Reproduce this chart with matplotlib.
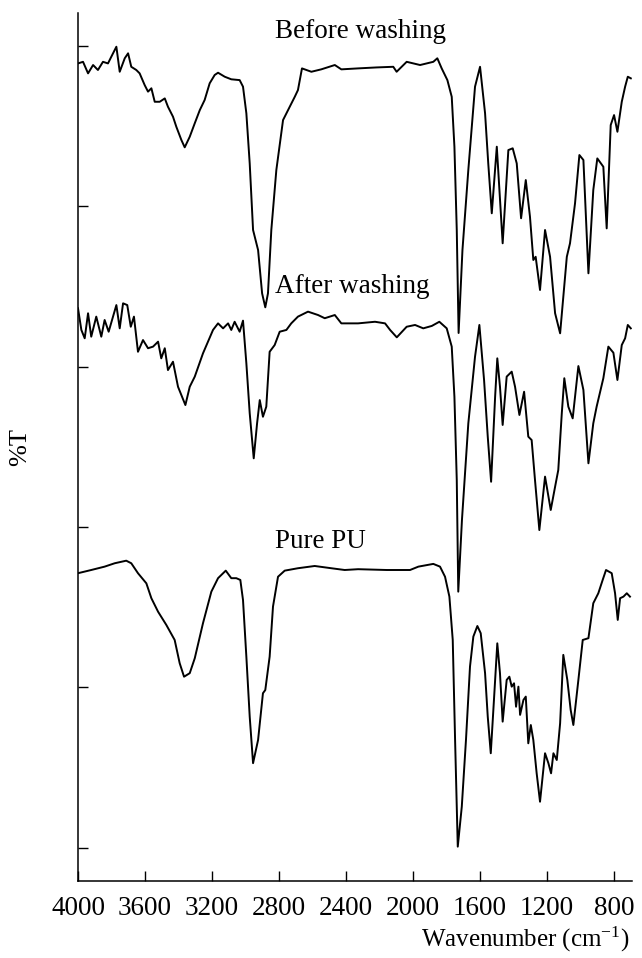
import numpy as np
import matplotlib
matplotlib.use('Agg')
import matplotlib.pyplot as plt

plt.rcParams['font.family'] = ['Liberation Serif', 'DejaVu Serif']
plt.rcParams['mathtext.fontset'] = 'custom'
plt.rcParams['mathtext.rm'] = 'Liberation Serif'
plt.rcParams['mathtext.it'] = 'Liberation Serif:italic'

# FTIR spectra, stacked (%T with offsets)
wn_before = [4000, 3970, 3940, 3910, 3881, 3851, 3821, 3801, 3771, 3751, 3721, 3701, 3682,
             3652, 3632, 3602, 3582, 3562, 3542, 3512, 3482, 3463, 3433, 3413, 3383, 3363,
             3333, 3303, 3273, 3244, 3214, 3184, 3164, 3124, 3085, 3035, 3015, 2995, 2975,
             2955, 2925, 2901, 2882, 2866, 2846, 2816, 2776, 2736, 2706, 2687, 2663, 2607,
             2548, 2467, 2428, 2328, 2217, 2118, 2098, 2038, 1958, 1879, 1855, 1829, 1795,
             1769, 1753, 1739, 1728, 1705, 1670, 1630, 1600, 1570, 1551, 1530, 1500, 1465,
             1431, 1405, 1381, 1355, 1327, 1302, 1282, 1268, 1242, 1212, 1182, 1152, 1122,
             1082, 1063, 1033, 1007, 983, 953, 924, 900, 864, 844, 820, 800, 780, 754, 734,
             718, 700]
t_before = [488.9, 489.9, 482.7, 487.9, 484.8, 489.9, 488.9, 493.1, 499.3, 483.7, 492.1, 495.2,
            486.8, 484.8, 482.7, 475.4, 471.3, 473.4, 465.0, 465.0, 467.1, 461.9, 455.7, 449.4,
            441.2, 436.6, 443.2, 451.6, 459.8, 466.1, 476.5, 481.7, 483.1, 480.6, 479.0, 478.5,
            474.4, 457.8, 426.6, 385.1, 372.6, 345.6, 336.9, 345.6, 385.1, 422.5, 453.6, 461.9,
            468.1, 472.3, 485.8, 483.7, 485.2, 487.9, 485.2, 485.8, 486.4, 486.8, 483.7, 489.9,
            487.9, 489.9, 492.1, 485.8, 478.5, 468.1, 437.0, 385.1, 320.9, 372.6, 422.5, 474.4,
            486.8, 457.8, 426.6, 395.5, 437.0, 376.8, 434.9, 436.0, 426.6, 392.4, 416.2, 393.4,
            366.4, 368.4, 347.7, 385.1, 368.4, 333.2, 320.7, 368.4, 376.8, 401.7, 431.8, 428.7,
            358.1, 410.0, 429.7, 424.5, 386.1, 450.5, 456.7, 446.3, 465.0, 474.4, 480.6, 479.6]

wn_after = [4000, 3980, 3960, 3940, 3921, 3891, 3861, 3841, 3817, 3791, 3771, 3751, 3731, 3706,
            3685, 3666, 3642, 3612, 3582, 3552, 3522, 3503, 3482, 3463, 3433, 3403, 3359, 3333,
            3303, 3254, 3194, 3164, 3134, 3104, 3085, 3065, 3035, 3015, 2995, 2975, 2951, 2931,
            2915, 2896, 2876, 2856, 2826, 2796, 2756, 2727, 2687, 2627, 2567, 2527, 2467, 2428,
            2328, 2227, 2167, 2137, 2097, 2038, 1988, 1939, 1888, 1843, 1799, 1769, 1753, 1739,
            1730, 1708, 1670, 1630, 1604, 1576, 1554, 1534, 1510, 1497, 1481, 1465, 1441, 1411,
            1391, 1365, 1337, 1312, 1292, 1272, 1246, 1212, 1178, 1152, 1133, 1112, 1097, 1073,
            1047, 1013, 983, 953, 924, 904, 864, 834, 804, 780, 754, 734, 718, 700]
t_after = [336.3, 322.8, 317.6, 333.2, 318.6, 331.1, 318.6, 329.0, 321.7, 331.1, 338.3, 323.8,
           339.4, 338.3, 324.8, 331.1, 309.2, 316.5, 311.4, 312.4, 315.5, 305.1, 311.4, 297.8,
           303.0, 287.4, 276.0, 287.4, 293.7, 308.2, 322.8, 326.9, 323.8, 326.9, 322.8, 327.9,
           321.7, 328.6, 302.0, 270.9, 242.8, 264.6, 279.1, 268.7, 275.0, 309.2, 313.4, 321.7,
           322.8, 326.9, 331.1, 334.2, 332.1, 330.1, 332.1, 326.9, 326.9, 327.9, 326.9, 322.8,
           318.2, 324.8, 325.9, 323.8, 325.3, 327.9, 323.8, 312.4, 281.2, 229.3, 159.7, 204.4,
           264.6, 306.1, 325.9, 291.6, 256.3, 228.2, 281.2, 305.1, 287.4, 263.6, 293.7, 296.8,
           287.4, 269.8, 284.3, 256.3, 254.2, 229.3, 198.1, 231.4, 210.6, 225.1, 235.5, 270.9,
           292.7, 275.0, 267.7, 300.3, 285.4, 239.7, 264.6, 275.0, 292.7, 312.4, 308.6, 291.6,
           313.4, 317.6, 325.9, 323.8]

wn_pure = [4000, 3921, 3841, 3781, 3712, 3682, 3642, 3592, 3562, 3522, 3473, 3423, 3393, 3367,
           3333, 3303, 3254, 3204, 3164, 3118, 3085, 3055, 3031, 3015, 2995, 2975, 2955, 2925,
           2896, 2882, 2856, 2836, 2806, 2766, 2687, 2587, 2488, 2408, 2328, 2157, 2018, 1968,
           1879, 1839, 1809, 1783, 1763, 1749, 1733, 1709, 1684, 1660, 1640, 1616, 1596, 1570,
           1554, 1536, 1517, 1497, 1481, 1465, 1441, 1425, 1411, 1397, 1385, 1371, 1361, 1341,
           1327, 1312, 1297, 1282, 1262, 1242, 1212, 1192, 1176, 1162, 1142, 1122, 1103, 1079,
           1059, 1043, 1013, 987, 953, 924, 894, 868, 848, 814, 794, 778, 764, 744, 724, 705]
t_pure = [171.2, 173.2, 175.3, 177.4, 179.0, 177.4, 171.2, 164.9, 155.6, 147.2, 139.0, 129.6,
          115.1, 106.7, 108.9, 118.2, 140.0, 159.7, 168.1, 172.8, 168.1, 168.1, 167.0, 154.5,
          119.2, 81.8, 52.8, 67.3, 96.4, 98.4, 119.2, 150.4, 169.0, 172.8, 174.3, 175.7, 174.3,
          173.2, 173.7, 173.2, 173.2, 175.3, 177.0, 175.3, 169.0, 156.6, 129.6, 67.3, 0.8, 25.7,
          67.3, 113.0, 131.7, 138.3, 133.8, 108.9, 81.8, 59.0, 92.2, 127.5, 108.9, 78.7, 104.7,
          106.7, 100.5, 102.6, 88.0, 100.5, 82.9, 92.2, 94.3, 65.2, 76.6, 67.3, 46.5, 28.8,
          59.0, 52.8, 46.5, 59.0, 54.8, 77.7, 120.3, 104.7, 86.0, 76.6, 104.7, 129.6, 130.7,
          152.5, 158.7, 167.0, 173.2, 171.2, 158.7, 142.1, 155.6, 156.6, 158.7, 156.6]

labels = ['Before washing', 'After washing', 'Pure PU']
label_pos = [(2824, 509), (2824, 350), (2824, 191)]
xticks = [4000, 3600, 3200, 2800, 2400, 2000, 1600, 1200, 800]

fig = plt.figure(figsize=(6.42, 9.58), dpi=100)
ax = fig.add_axes([0.1215, 0.0804, 0.8629, 0.906])

for wn, t in [(wn_before, t_before), (wn_after, t_after), (wn_pure, t_pure)]:
    ax.plot(wn, t, color='black', lw=1.4, solid_joinstyle='round')

for txt, (x, y) in zip(labels, label_pos):
    ax.text(x, y, txt, fontsize=19.5, ha='left', va='center')

ax.set_xlim(4000, 693)
ax.set_ylim(-20.6, 520.3)
ax.set_xticks(xticks)
ax.set_yticks([0, 100, 200, 300, 400, 500])
ax.set_yticklabels([])
ax.tick_params(direction='in', length=7, width=1, labelsize=19.5)
ax.tick_params(axis='x', pad=11)
ax.spines['top'].set_visible(False)
ax.spines['right'].set_visible(False)
ax.spines['left'].set_linewidth(1.1)
ax.spines['bottom'].set_linewidth(1.1)

ax.set_ylabel('%T', fontsize=19, labelpad=30)
ax.set_xlabel('Wavenumber (cm$^{-1}$)', fontsize=18)
ax.xaxis.set_label_coords(0.995, -0.05)
ax.xaxis.label.set_horizontalalignment('right')

fig.savefig('out.png', dpi=100)
